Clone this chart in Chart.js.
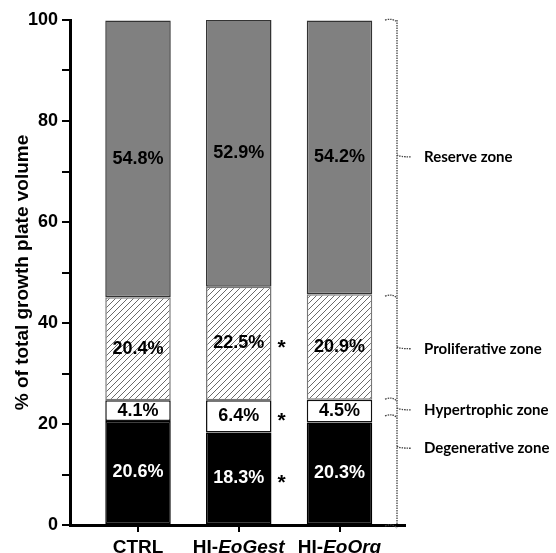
<!DOCTYPE html>
<html>
<head>
<meta charset="utf-8">
<script src="https://cdn.jsdelivr.net/npm/chart.js@4.4.1/dist/chart.umd.min.js"></script>
<style>
  html, body { margin: 0; padding: 0; background: #fff; }
  #wrap { width: 556px; height: 553px; }
</style>
</head>
<body>
<div id="wrap"><canvas id="chart"></canvas></div>
<script>
// groups and zone values (% of total growth plate volume)
const categories = ['CTRL', 'HI-EoGest', 'HI-EoOrg'];
const italicParts = ['', 'EoGest', 'EoOrg'];
const degenerative = [20.6, 18.3, 20.3];
const hypertrophic = [4.1, 6.4, 4.5];
const proliferative = [20.4, 22.5, 20.9];
const reserve = [54.8, 52.9, 54.2];
const starsDegenerative = ['', '*', ''];
const starsHypertrophic = ['', '*', ''];
const starsProliferative = ['', '*', ''];
const starsReserve = ['', '', ''];
const yTicks = [0, 20, 40, 60, 80, 100];
// right-hand zone bracket (data units)
const zoneNames = ['Degenerative zone', 'Hypertrophic zone', 'Proliferative zone', 'Reserve zone'];
const zoneEdges = [0, 21.8, 25.1, 45.5, 100];
const zoneMarks = [15.2, 22.8, 34.9, 72.9];

const ARIAL = '"Liberation Sans", Arial, sans-serif';
Chart.defaults.font.family = ARIAL;
Chart.defaults.color = '#000';

function hatch() {
    const c = document.createElement('canvas');
    c.width = 6; c.height = 6;
    const g = c.getContext('2d');
    g.fillStyle = '#fff';
    g.fillRect(0, 0, 6, 6);
    g.strokeStyle = '#6a6a6a';
    g.lineWidth = 1;
    g.beginPath();
    g.moveTo(0, 6); g.lineTo(6, 0);
    g.moveTo(-1, 1); g.lineTo(1, -1);
    g.moveTo(5, 7); g.lineTo(7, 5);
    g.stroke();
    return g.createPattern(c, 'repeat');
}

const valueLabels = {
    id: 'valueLabels',
    afterDatasetsDraw(chart) {
        const ctx = chart.ctx;
        ctx.save();
        ctx.textAlign = 'center';
        ctx.textBaseline = 'middle';
        chart.data.datasets.forEach((ds, di) => {
            chart.getDatasetMeta(di).data.forEach((bar, i) => {
                const cy = (bar.y + bar.base) / 2;
                ctx.font = 'bold 18px ' + ARIAL;
                ctx.fillStyle = ds.labelColor;
                ctx.fillText(ds.data[i].toFixed(1) + '%', bar.x, cy);
                if (ds.stars[i]) {
                    ctx.font = 'bold 21px ' + ARIAL;
                    ctx.fillStyle = '#000';
                    ctx.fillText(ds.stars[i], bar.x + bar.width / 2 + 10, cy + 5);
                }
            });
        });
        ctx.restore();
    }
};

const xLabels = {
    id: 'xLabels',
    afterDraw(chart) {
        const ctx = chart.ctx;
        const x = chart.scales.x;
        const base = chart.chartArea.bottom + 28;
        ctx.save();
        ctx.fillStyle = '#000';
        ctx.textAlign = 'left';
        ctx.textBaseline = 'alphabetic';
        categories.forEach((c, i) => {
            const it = italicParts[i];
            const pre = c.slice(0, c.length - it.length);
            ctx.font = 'bold 19px ' + ARIAL;
            const w1 = ctx.measureText(pre).width;
            ctx.font = 'italic bold 19px ' + ARIAL;
            const w2 = ctx.measureText(it).width;
            const sx = x.getPixelForValue(i) - (w1 + w2) / 2;
            ctx.font = 'bold 19px ' + ARIAL;
            ctx.fillText(pre, sx, base);
            ctx.font = 'italic bold 19px ' + ARIAL;
            ctx.fillText(it, sx + w1, base);
        });
        ctx.restore();
    }
};

const zoneBracket = {
    id: 'zoneBracket',
    afterDraw(chart) {
        const ctx = chart.ctx;
        const y = chart.scales.y;
        const bx = chart.chartArea.right - 8;
        ctx.save();
        ctx.strokeStyle = '#444';
        ctx.lineWidth = 1.3;
        ctx.setLineDash([1.5, 1]);
        ctx.beginPath();
        ctx.moveTo(bx, y.getPixelForValue(100));
        ctx.lineTo(bx, y.getPixelForValue(0));
        ctx.stroke();
        zoneEdges.forEach(v => {
            const py = y.getPixelForValue(v);
            ctx.beginPath();
            ctx.moveTo(bx - 12, py + (v === 100 ? 0 : 1));
            ctx.quadraticCurveTo(bx - 4, py - 2, bx, py + (v === 100 ? 2 : 3));
            ctx.stroke();
        });
        zoneMarks.forEach(v => {
            const py = y.getPixelForValue(v);
            ctx.beginPath();
            ctx.moveTo(bx, py - 2);
            ctx.quadraticCurveTo(bx + 2, py, bx + 14, py);
            ctx.stroke();
        });
        ctx.setLineDash([]);
        ctx.fillStyle = '#000';
        ctx.font = 'bold 15px Lato, "Open Sans", sans-serif';
        ctx.textAlign = 'left';
        ctx.textBaseline = 'middle';
        zoneNames.forEach((n, i) => {
            ctx.fillText(n, bx + 27, y.getPixelForValue(zoneMarks[i]));
        });
        ctx.restore();
    }
};

document.addEventListener('DOMContentLoaded', function () {
    new Chart('chart', {
        type: 'bar',
        data: {
            labels: categories,
            datasets: [
                { label: 'Degenerative zone', data: degenerative, backgroundColor: '#000', borderColor: '#000', labelColor: '#fff', stars: starsDegenerative },
                { label: 'Hypertrophic zone', data: hypertrophic, backgroundColor: '#fff', borderColor: '#111', labelColor: '#000', stars: starsHypertrophic },
                { label: 'Proliferative zone', data: proliferative, backgroundColor: hatch(), borderColor: '#777', labelColor: '#000', stars: starsProliferative },
                { label: 'Reserve zone', data: reserve, backgroundColor: '#808080', borderColor: '#333', labelColor: '#000', stars: starsReserve },
            ],
        },
        options: {
            responsive: true,
            maintainAspectRatio: false,
            animation: false,
            layout: { padding: { top: 20, right: 151, bottom: 0, left: 0 } },
            datasets: {
                bar: { borderWidth: 1.5, borderSkipped: false, categoryPercentage: 1, barPercentage: 0.65 }
            },
            plugins: {
                legend: { display: false },
                tooltip: { enabled: false },
            },
            scales: {
                x: {
                    stacked: true,
                    offset: true,
                    border: { color: '#000', width: 3 },
                    grid: { offset: false, drawOnChartArea: false, tickLength: 7, color: '#000', lineWidth: 2 },
                    ticks: { display: false },
                    afterBuildTicks(scale) {
                        scale._startValue = -0.675;
                        scale._valueRange = 3.325;
                    },
                    afterFit(scale) { scale.height = 28; },
                },
                y: {
                    stacked: true,
                    min: 0,
                    max: 100,
                    border: { color: '#000', width: 3 },
                    grid: { drawOnChartArea: false, tickLength: 8, color: '#000', lineWidth: 2 },
                    ticks: {
                        stepSize: 10,
                        padding: 4,
                        color: '#000',
                        font: { size: 18, weight: 'bold' },
                        callback: v => yTicks.includes(v) ? v : '',
                    },
                    title: {
                        display: true,
                        text: '% of total growth plate volume',
                        color: '#000',
                        font: { size: 19, weight: 'bold' },
                        padding: { top: 11, bottom: 0 },
                    },
                    afterFit(scale) { scale.width = 70; },
                },
            },
        },
        plugins: [valueLabels, xLabels, zoneBracket],
    });
});
</script>
</body>
</html>
